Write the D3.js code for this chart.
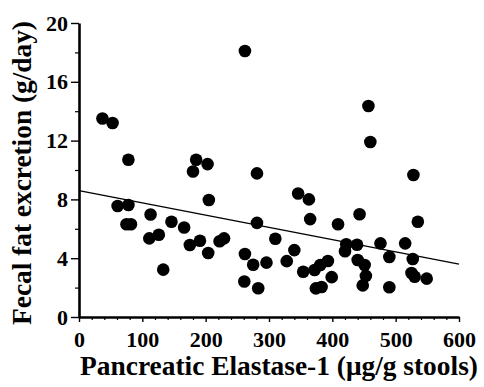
<!DOCTYPE html>
<html>
<head>
<meta charset="utf-8">
<script src="https://cdn.jsdelivr.net/npm/d3@7"></script>
<style>
  html, body { margin: 0; padding: 0; background: #fff; }
  svg { display: block; }
  text { font-family: "Liberation Serif", "Times New Roman", serif; font-weight: bold; fill: #000; }
</style>
</head>
<body>
<div id="chart"></div>
<script>
// elastase-1 (ug/g stools) vs fecal fat (g/day)
const elastase = [
  37, 53, 78, 180, 185, 203, 262, 457, 460, 281, 528,
  346, 363, 365, 281, 310, 262, 275, 296, 261, 283,
  340, 328, 354, 372, 381, 393, 399, 374, 383,
  409, 443, 422, 420, 439, 440, 451, 453, 448,
  476, 490, 490, 515, 527, 525, 530, 549, 535,
  61, 78, 75, 82, 113, 111, 126, 146, 166, 133,
  205, 175, 191, 204, 222, 229
];
const fecalFat = [
  13.5, 13.2, 10.7, 9.9, 10.7, 10.4, 18.1, 14.35, 11.9, 9.77, 9.66,
  8.4, 8.0, 6.66, 6.4, 5.32, 4.29, 3.55, 3.70, 2.42, 1.96,
  4.55, 3.80, 3.08, 3.2, 3.54, 3.81, 2.71, 1.95, 2.04,
  6.31, 6.99, 4.95, 4.47, 4.92, 3.88, 3.54, 2.8, 2.15,
  5.01, 4.08, 2.02, 5.01, 3.95, 2.99, 2.74, 2.61, 6.48,
  7.55, 7.62, 6.31, 6.31, 6.97, 5.35, 5.6, 6.48, 6.09, 3.22,
  7.96, 4.9, 5.19, 4.35, 5.15, 5.35
];

// regression line drawn across the whole x range
const fitX = [0, 600];
const fitY = [8.6, 3.6];

const xTicks = [0, 100, 200, 300, 400, 500, 600];
const xMinor = d3.range(0, 601, 20).filter((v) => v % 100 !== 0);
const yTicks = [0, 4, 8, 12, 16, 20];
const yMinor = [2, 6, 10, 14, 18];

const xTitle = 'Pancreatic Elastase-1 (\u03bcg/g stools)';
const yTitle = 'Fecal fat excretion (g/day)';

const width = 484;
const height = 387;
const serif = '"Liberation Serif", "Times New Roman", serif';

const svg = d3.select('#chart').append('svg')
  .attr('width', width)
  .attr('height', height);

svg.append('rect').attr('width', width).attr('height', height).attr('fill', '#fff');

const x = d3.scaleLinear().domain([0, 600]).range([79, 459]);
const y = d3.scaleLinear().domain([0, 20]).range([317, 23]);

// fit a text element to a target width by changing its font size
function fitText (sel, target) {
  const len = sel.node().getComputedTextLength();
  const size = parseFloat(sel.style('font-size'));
  sel.style('font-size', (size * target / len) + 'px');
}

// minor ticks first, axes on top
svg.append('g')
  .attr('transform', `translate(0,${y(0)})`)
  .call(d3.axisBottom(x).tickValues(xMinor).tickSize(3).tickFormat(''))
  .call((g) => g.select('.domain').remove())
  .call((g) => g.selectAll('line').attr('stroke-width', 1.2));

svg.append('g')
  .attr('transform', `translate(${x(0)},0)`)
  .call(d3.axisLeft(y).tickValues(yMinor).tickSize(4).tickFormat(''))
  .call((g) => g.select('.domain').remove())
  .call((g) => g.selectAll('line').attr('stroke-width', 1.2));

const xAxis = svg.append('g')
  .attr('transform', `translate(0,${y(0)})`)
  .call(d3.axisBottom(x).tickValues(xTicks).tickSizeInner(5).tickSizeOuter(0).tickPadding(9));
xAxis.select('.domain').attr('stroke-width', 2.6);
xAxis.selectAll('line').attr('stroke-width', 1.4);
xAxis.selectAll('text')
  .attr('dy', '0.71em')
  .style('font-family', serif)
  .style('font-weight', 'bold')
  .style('font-size', '22px');

const yAxis = svg.append('g')
  .attr('transform', `translate(${x(0)},0)`)
  .call(d3.axisLeft(y).tickValues(yTicks).tickSizeInner(8).tickSizeOuter(0).tickPadding(3));
yAxis.select('.domain').attr('stroke-width', 2.6);
yAxis.selectAll('line').attr('stroke-width', 1.4);
yAxis.selectAll('text')
  .style('font-family', serif)
  .style('font-weight', 'bold')
  .style('font-size', '22px');

// regression line
svg.append('line')
  .attr('x1', x(fitX[0])).attr('y1', y(fitY[0]))
  .attr('x2', x(fitX[1])).attr('y2', y(fitY[1]))
  .attr('stroke', '#000')
  .attr('stroke-width', 1.4);

// points
svg.append('g')
  .selectAll('circle')
  .data(elastase.map((v, i) => [v, fecalFat[i]]))
  .join('circle')
  .attr('cx', (d) => x(d[0]))
  .attr('cy', (d) => y(d[1]))
  .attr('r', 6.3)
  .attr('fill', '#000');

// axis titles
const xt = svg.append('text')
  .attr('x', 279)
  .attr('y', 375)
  .attr('text-anchor', 'middle')
  .style('font-size', '24px')
  .text(xTitle);
fitText(xt, 398);

const yt = svg.append('text')
  .attr('transform', 'translate(31,173) rotate(-90)')
  .attr('text-anchor', 'middle')
  .style('font-size', '24px')
  .text(yTitle);
fitText(yt, 304);
</script>
</body>
</html>
